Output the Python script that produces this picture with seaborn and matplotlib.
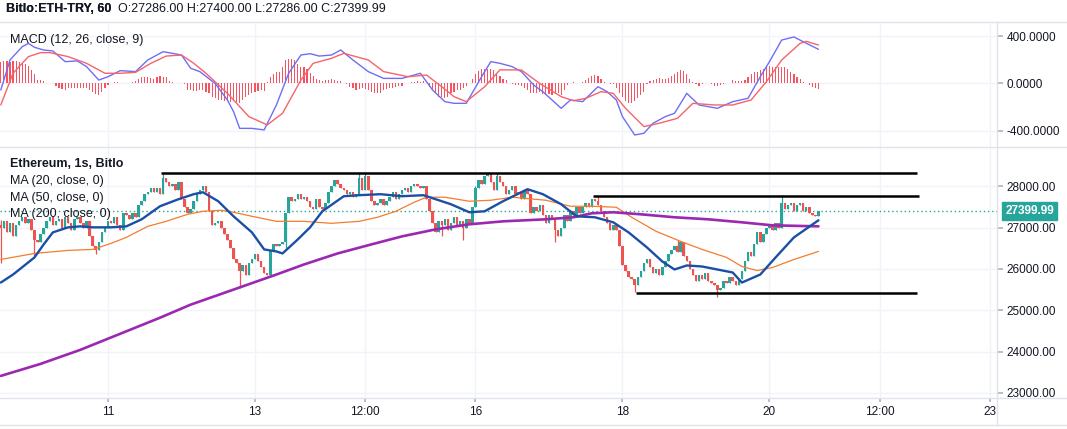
import matplotlib
matplotlib.use("Agg")
import matplotlib.pyplot as plt
from matplotlib.lines import Line2D
import numpy as np
import pandas as pd
import seaborn as sns

# hourly closes, Bitlo ETH-TRY
closes = [
    27000, 27150, 26900, 27100, 26800, 27050, 27150, 27250, 27100, 27200,
    26950, 26700, 26650, 26850, 27000, 27150, 27250, 27050, 27150, 27200,
    27000, 27250, 27100, 26950, 27200, 27250, 27100, 27000, 27150, 26800,
    26550, 26450, 26650, 26900, 27000, 27150, 27100, 27250, 27050, 26950,
    27350, 27300, 27200, 27350, 27250, 27550, 27650, 27800, 27850, 27950,
    27850, 27950, 27800, 28200, 28100, 28000, 28050, 27900, 28100, 27700,
    27500, 27350, 27450, 27650, 27800, 27900, 28000, 27850, 27400, 27050,
    27100, 27150, 27000, 26850, 26700, 26500, 26250, 26150, 25950, 26100,
    25850, 26150, 26250, 26350, 26200, 26050, 25900, 25850, 26450, 26600,
    26550, 26600, 26650, 27350, 27750, 27650, 27700, 27800, 27700, 27750,
    27650, 27500, 27450, 27700, 27500, 27450, 27600, 27850, 28000, 28150,
    28050, 27950, 27900, 27800, 27850, 27750, 27800, 28200, 27900, 28250,
    27900, 27650, 27550, 27600, 27700, 27550, 27650, 27750, 27850, 27700,
    27800, 27900, 27950, 27850, 28000, 28050, 28000, 27950, 28000, 27700,
    27400, 27100, 26900, 27150, 27050, 27200, 26950, 27100, 27250, 27050,
    27150, 27000, 27200, 27100, 27500, 27950, 28150, 28050, 28250, 28300,
    28100, 27900, 28250, 28100, 28000, 27800, 27900, 28000, 27800, 27850,
    27700, 27900, 27800, 27350, 27500, 27400, 27550, 27300, 27100, 27300,
    27200, 26950, 26800, 27000, 27300, 27150, 27400, 27300, 27500, 27350,
    27500, 27600, 27500, 27700, 27650, 27550, 27400, 27250, 27100, 26950,
    27050, 26950, 26550, 26100, 25950, 25800, 25750, 25600, 25800, 25950,
    26150, 26250, 26050, 25900, 26000, 25850, 26050, 26200, 26350, 26450,
    26550, 26400, 26650, 26300, 26200, 26000, 25850, 25700, 25850, 25750,
    25900, 25700, 25650, 25600, 25500, 25550, 25700, 25650, 25800, 25700,
    25600, 25750, 25950, 26200, 26400, 26300, 26600, 26900, 26650, 26850,
    27000, 27050, 26950, 27100, 27000, 27600, 27450, 27550, 27600, 27400,
    27550, 27600, 27400, 27500, 27350, 27300, 27286, 27399.99,
]
first_open = 27050
wick_highs = {0: 27180, 53: 28300, 117: 28310, 119: 28320, 155: 28000,
              159: 28340, 162: 28330, 195: 27770, 221: 26700, 255: 27780}
wick_lows = {0: 26150, 11: 26300, 31: 26350, 78: 25550, 93: 26500, 144: 26800,
             151: 26700, 181: 26650, 207: 25430, 234: 25320}

# moving averages, sampled at candle index
ma20_idx = [0, 4, 11, 14, 17, 22, 26, 30, 36, 41, 46, 52, 58, 63, 66, 71, 76, 82, 86,
            90, 92, 97, 101, 105, 112, 117, 124, 131, 138, 140, 147, 153, 158, 164,
            172, 177, 183, 188, 194, 200, 205, 211, 216, 220, 224, 229, 239, 242,
            248, 253, 259, 267]
ma20 = [25670, 25864, 26277, 26592, 26883, 27005, 27029, 27005, 27005, 27029, 27199,
        27515, 27684, 27806, 27854, 27636, 27272, 26883, 26471, 26422, 26374, 26714,
        27005, 27393, 27757, 27782, 27806, 27757, 27782, 27733, 27563, 27369, 27393,
        27636, 27927, 27806, 27563, 27272, 27248, 27126, 26883, 26519, 26180, 25986,
        26083, 26058, 25913, 25670, 25864, 26277, 26762, 27175]
ma50_idx = [0, 11, 22, 30, 36, 41, 48, 54, 61, 66, 72, 76, 82, 90, 99, 108, 117, 123,
            129, 135, 139, 145, 153, 160, 167, 178, 186, 193, 201, 206, 214, 222, 229,
            237, 242, 247, 252, 259, 267]
ma50 = [26228, 26374, 26447, 26471, 26617, 26762, 27029, 27150, 27320, 27393, 27418,
        27369, 27272, 27150, 27150, 27102, 27150, 27248, 27393, 27612, 27733, 27733,
        27636, 27660, 27733, 27660, 27515, 27515, 27490, 27248, 26908, 26665, 26471,
        26277, 26058, 25961, 26034, 26228, 26422]
ma200_idx = [0, 13, 26, 39, 52, 62, 76, 90, 99, 110, 121, 131, 142, 153, 164, 178,
             187, 193, 200, 209, 220, 231, 242, 252, 267]
ma200 = [23413, 23704, 24044, 24432, 24820, 25136, 25500, 25864, 26107, 26374, 26592,
         26786, 26956, 27078, 27150, 27199, 27248, 27345, 27369, 27320, 27248, 27199,
         27126, 27053, 27029]

# MACD (12, 26, close, 9)
macd_idx = [0, 3, 7, 9, 11, 14, 17, 21, 25, 28, 32, 35, 39, 44, 48, 53, 59, 62, 65,
            70, 74, 76, 78, 82, 86, 90, 94, 98, 101, 104, 108, 111, 115, 120, 125,
            131, 137, 141, 145, 148, 152, 157, 160, 163, 167, 170, 174, 177, 180,
            183, 186, 190, 195, 198, 201, 203, 207, 210, 213, 217, 220, 224, 228,
            234, 239, 244, 248, 251, 255, 259, 262, 267]
macd_line = [-55, 198, 310, 338, 305, 282, 274, 184, 190, 142, 29, 57, 108, 100, 198,
             268, 240, 128, 100, 0, -139, -237, -378, -378, -391, -181, 86, 240, 251,
             231, 240, 282, 198, 100, 43, 43, 86, -55, -153, -167, -167, 57, 184, 170,
             142, 100, -13, -69, -139, -209, -139, -153, -27, -69, -139, -279, -434,
             -419, -335, -279, -251, -83, -181, -209, -153, -125, 57, 184, 366, 392,
             352, 288]
signal_idx = [0, 4, 9, 13, 16, 22, 28, 34, 39, 44, 49, 54, 59, 63, 67, 74, 81, 87, 92,
              98, 102, 108, 112, 120, 125, 133, 139, 144, 148, 152, 158, 163, 170,
              176, 183, 187, 191, 196, 200, 204, 210, 215, 221, 226, 233, 239, 245,
              250, 255, 261, 263, 267]
signal_line = [-181, 86, 226, 260, 260, 226, 170, 86, 86, 94, 170, 231, 240, 170, 86,
               -83, -279, -349, -251, 29, 170, 212, 254, 198, 100, 57, 71, -27, -111,
               -153, -27, 115, 114, 0, -111, -145, -125, -69, -83, -209, -363, -335,
               -293, -167, -181, -181, -139, 15, 198, 338, 355, 324]
macd_hist = [
    182, 191, 191, 182, 191, 191, 182, 174, 163, 146,
    112, 84, 28, 28, 22, 8, 6, 0, -22, -34,
    -48, -56, -42, -34, -36, -42, -34, -42, -36, -51,
    -70, -90, -93, -70, -42, -14, 6, 11, 14, 8,
    6, 6, 8, 11, 22, 42, 56, 56, 51, 48,
    42, 51, 62, 56, 51, 22, 11, 3, 0, 0,
    -6, -51, -56, -62, -62, -56, -56, -70, -84, -118,
    -126, -135, -135, -146, -140, -154, -146, -157, -168, -140,
    -118, -98, -79, -70, -62, -56, -62, 14, 51, 79,
    95, 93, 140, 196, 210, 210, 196, 168, 140, 140,
    118, 90, 62, 39, 28, 22, 28, 28, 34, 28,
    25, 22, 8, -6, -28, -42, -51, -45, -42, -48,
    -56, -70, -79, -84, -79, -56, -48, -42, -34, -28,
    -22, -17, 0, 6, 11, 14, 17, 14, 17, 6,
    -28, -56, -84, -112, -118, -126, -112, -84, -70, -56,
    -51, -42, -22, 0, 42, 84, 107, 118, 118, 126,
    118, 112, 90, 62, 42, 28, 8, -8, -14, -14,
    -22, -34, -56, -84, -79, -79, -70, -90, -98, -90,
    -98, -90, -84, -98, -51, -14, 6, 11, 8, 6,
    11, 28, 45, 67, 73, 67, 42, 14, 0, -3,
    -8, -42, -79, -118, -146, -163, -168, -146, -126, -98,
    -70, -6, 20, 28, 39, 45, 39, 34, 45, 62,
    84, 98, 112, 107, 84, 42, 11, -8, -17, -8,
    0, 6, -3, -17, -22, -11, -6, 0, 6, 28,
    22, 22, 22, 28, 56, 84, 93, 101, 112, 126,
    140, 146, 140, 140, 140, 135, 135, 118, 98, 84,
    56, 34, 14, 0, -14, -28, -42, -48,
]

# drawn horizontal levels: (start index, end index, price)
levels = [(52.2, 299.2, 28330), (193.3, 299.8, 27765), (207.3, 299.2, 25420)]
last_price = 27399.99

tick_pos = [35, 83, 119, 155, 203, 251, 287, 323]
tick_labels = ["11", "13", "12:00", "16", "18", "20", "12:00", "23"]
price_ticks = [23000, 24000, 25000, 26000, 27000, 28000]
macd_ticks = [-400, 0, 400]

df = pd.DataFrame({"close": closes})
df["open"] = df["close"].shift(1).fillna(first_open)
df["high"] = df[["open", "close"]].max(axis=1)
df["low"] = df[["open", "close"]].min(axis=1)
for k, v in wick_highs.items():
    df.loc[k, "high"] = v
for k, v in wick_lows.items():
    df.loc[k, "low"] = v
df["idx"] = np.arange(len(df))

sns.set_theme(style="white")
plt.rcParams["font.family"] = ["Liberation Sans", "DejaVu Sans"]

W, H = 1067, 429
fig = plt.figure(figsize=(W / 100, H / 100), dpi=100)
ax_m = fig.add_axes([0, 1 - 147 / H, 997 / W, 125 / H])
ax_p = fig.add_axes([0, 1 - 398 / H, 997 / W, 251 / H])

grid_c = "#f0f3fa"
text_c = "#131722"
up_c, down_c = "#26a69a", "#ef5350"

for ax in (ax_m, ax_p):
    ax.set_xlim(-0.26, 325.3)
    ax.set_xticks(tick_pos)
    ax.grid(True, color=grid_c, lw=1)
    ax.set_axisbelow(True)
    for s in ax.spines.values():
        s.set_visible(False)
    ax.yaxis.tick_right()
    ax.tick_params(axis="y", length=4, color="#b2b5be", labelsize=8.5,
                   labelcolor=text_c, pad=3, right=True, left=False)

# ---- MACD panel
ax_m.set_ylim(-535, 518)
ax_m.set_yticks(macd_ticks)
ax_m.set_yticklabels([f"{v:.4f}" for v in macd_ticks])
ax_m.tick_params(axis="x", length=0, labelbottom=False)
ax_m.bar(np.arange(len(macd_hist)), macd_hist, width=0.38, color="#f7525f", lw=0)
sns.lineplot(x=macd_idx, y=macd_line, ax=ax_m, color="#6e6ef5", lw=1.0)
sns.lineplot(x=signal_idx, y=signal_line, ax=ax_m, color="#f7636a", lw=1.0)
ax_m.set_xlabel("")
ax_m.text(10 / 997, 1 - 18 / 125, "MACD (12, 26, close, 9)", transform=ax_m.transAxes,
          fontsize=9, color=text_c, va="center", ha="left")

# ---- price panel
ax_p.set_ylim(22879, 28947)
ax_p.set_yticks(price_ticks)
ax_p.set_yticklabels([f"{v:.2f}" for v in price_ticks])
ax_p.set_xticklabels(tick_labels)
ax_p.tick_params(axis="x", length=3, color="#b2b5be", labelsize=8.5,
                 labelcolor=text_c, pad=3, bottom=True)

up = df["close"] >= df["open"]
cols = np.where(up, up_c, down_c)
ax_p.vlines(df["idx"], df["low"], df["high"], colors=cols, lw=0.9, zorder=2)
body = (df["close"] - df["open"]).abs().clip(lower=12)
ax_p.bar(df["idx"], body, bottom=df[["open", "close"]].min(axis=1), width=0.82,
         color=cols, lw=0, zorder=2)

sns.lineplot(x=ma50_idx, y=ma50, ax=ax_p, color="#f57c2b", lw=0.9, zorder=3)
sns.lineplot(x=ma200_idx, y=ma200, ax=ax_p, color="#9c27b0", lw=1.9, zorder=3)
sns.lineplot(x=ma20_idx, y=ma20, ax=ax_p, color="#1b4fa6", lw=1.7, zorder=4)
ax_p.set_xlabel("")

for x0, x1, p in levels:
    ax_p.plot([x0, x1], [p, p], color="black", lw=1.8, solid_capstyle="butt", zorder=5)

ax_p.axhline(last_price, color=up_c, lw=1, ls=(0, (1, 2)), zorder=1)
ax_p.annotate(f"{last_price:.2f}", xy=(1.0, last_price), xycoords=("axes fraction", "data"),
              xytext=(6, 0), textcoords="offset points", ha="left", va="center",
              fontsize=8.5, color="white", weight="bold", annotation_clip=False,
              bbox=dict(boxstyle="square,pad=0.28", fc=up_c, ec=up_c))

ax_p.text(10 / 997, 1 - 17 / 251, "Ethereum, 1s, Bitlo", transform=ax_p.transAxes,
          fontsize=9, color=text_c, weight="bold", va="center")
for j, lab in enumerate(["MA (20, close, 0)", "MA (50, close, 0)", "MA (200, close, 0)"]):
    ax_p.text(10 / 997, 1 - (34 + 16.7 * j) / 251, lab, transform=ax_p.transAxes,
              fontsize=9, color=text_c, va="center", zorder=6)

# ---- header and frame lines
head = fig.text(6 / W, 1 - 9 / H, "Bitlo:ETH-TRY, 60", fontsize=9, weight="bold",
                color=text_c, va="center")
fig.add_artist(head)
ax_m.annotate("O:27286.00 H:27400.00 L:27286.00 C:27399.99", xy=(1, 0.5),
              xycoords=head, xytext=(5, 0), textcoords="offset points",
              fontsize=9, color=text_c, va="center", ha="left", annotation_clip=False)
frame_c = "#e0e3eb"
for yy in (22, 147, 398, 425):
    fig.add_artist(Line2D([0, 1], [1 - yy / H] * 2, color=frame_c, lw=1,
                          transform=fig.transFigure))
fig.add_artist(Line2D([997 / W] * 2, [1 - 425 / H, 1 - 22 / H], color=frame_c, lw=1,
                      transform=fig.transFigure))

fig.savefig("out.png", dpi=100)
